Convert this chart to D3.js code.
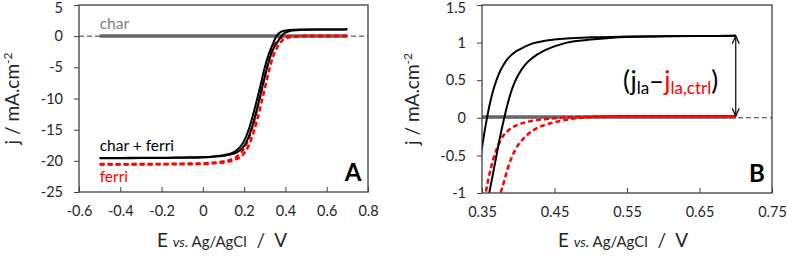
<!DOCTYPE html>
<html><head><meta charset="utf-8">
<script src="https://cdn.jsdelivr.net/npm/d3@7"></script>
<style>body{margin:0;background:#fff}svg{display:block;font-family:Lato,"Open Sans",sans-serif}</style>
</head><body><svg id="c" width="787" height="256"></svg>
<script>
// ---- data ----
const E = [-0.5,-0.4,-0.3,-0.2,-0.1,0,0.05,0.1,0.15,0.18,0.2,0.22,0.24,0.26,0.28,0.30,0.32,0.34,0.35,0.355,0.36,0.365,0.37,0.375,0.38,0.385,0.39,0.395,0.40,0.41,0.42,0.435,0.45,0.467,0.5,0.55,0.6,0.65,0.7];
const charFerriFwd = [-19.55,-19.55,-19.5,-19.5,-19.45,-19.4,-19.3,-19.1,-18.6,-17.8,-16.8,-15.2,-13.0,-10.5,-7.8,-5.0,-2.8,-1.2,-0.4,-0.1,0.15,0.35,0.5,0.62,0.71,0.78,0.83,0.87,0.9,0.95,0.99,1.02,1.04,1.055,1.07,1.08,1.085,1.088,1.09];
const charFerriRev = [-19.6,-19.6,-19.55,-19.55,-19.5,-19.45,-19.35,-19.2,-18.85,-18.3,-17.6,-16.3,-14.4,-12.0,-9.3,-6.5,-4.0,-2.1,-1.5,-1.25,-1.0,-0.75,-0.5,-0.25,-0.03,0.17,0.34,0.47,0.57,0.71,0.8,0.89,0.95,1.0,1.04,1.075,1.083,1.087,1.09];
const ferriFwd = [-20.5,-20.55,-20.5,-20.5,-20.45,-20.4,-20.3,-20.1,-19.6,-18.9,-18.0,-16.6,-14.6,-12.1,-9.3,-6.4,-3.9,-2.0,-1.3,-1.0,-0.76,-0.57,-0.42,-0.31,-0.23,-0.18,-0.14,-0.11,-0.09,-0.06,-0.04,-0.02,-0.005,0.005,0.015,0.02,0.02,0.02,0.02];
const ferriRev = [-20.6,-20.6,-20.6,-20.55,-20.55,-20.5,-20.4,-20.25,-19.9,-19.4,-18.8,-17.7,-16.0,-13.8,-11.2,-8.4,-5.6,-3.3,-2.5,-2.15,-1.8,-1.5,-1.25,-1.03,-0.86,-0.69,-0.55,-0.44,-0.36,-0.25,-0.17,-0.1,-0.06,-0.025,0.01,0.02,0.02,0.02,0.02];
const charE = [-0.5,0.7];
const charJ = [0.01,0.01];
const ticksAx = [-0.6,-0.4,-0.2,0,0.2,0.4,0.6,0.8];
const ticksAy = [5,0,-5,-10,-15,-20,-25];
const ticksBx = [0.35,0.45,0.55,0.65,0.75];
const ticksBy = [1.5,1,0.5,0,-0.5,-1];
const arrowE = 0.70, arrowTop = 1.09, arrowBot = 0.02;

const svg = d3.select("#c");
const frameCol = "#404040";

function panel(opts){
  const {x0,x1,y0,y1,xd,yd,xt,yt,id,letter,ylabX,xlabX} = opts;
  const x = d3.scaleLinear().domain(xd).range([x0,x1]);
  const y = d3.scaleLinear().domain(yd).range([y1,y0]);
  const g = svg.append("g");
  g.append("clipPath").attr("id",id).append("rect").attr("x",x0).attr("y",y0).attr("width",x1-x0).attr("height",y1-y0);
  const ax = g.append("g").attr("transform",`translate(0,${y1})`)
    .call(d3.axisBottom(x).tickValues(xt).tickSize(-5).tickPadding(14).tickFormat(d=>String(d)));
  const ay = g.append("g").attr("transform",`translate(${x0},0)`)
    .call(d3.axisLeft(y).tickValues(yt).tickSize(5).tickPadding(11).tickFormat(d=>String(d)));
  [ax,ay].forEach(a=>{a.select(".domain").remove();a.selectAll("line").attr("stroke",frameCol).attr("stroke-width",1);
    a.selectAll("text").attr("font-family","Lato").attr("font-size",14.5).attr("fill","#262626");});
  ay.selectAll(".tick text").filter(d=>d===yd[1]).attr("dy","0.55em");
  const pg = g.append("g").attr("clip-path",`url(#${id})`);
  pg.append("line").attr("x1",x0).attr("x2",x1).attr("y1",y(0)).attr("y2",y(0))
    .attr("stroke","#333").attr("stroke-width",1).attr("stroke-dasharray","5,3");
  const line = d3.line().x(d=>x(d[0])).y(d=>y(d[1])).curve(d3.curveMonotoneX);
  pg.append("path").datum(charE.map((e,i)=>[e,charJ[i]])).attr("d",line)
    .attr("fill","none").attr("stroke","#666").attr("stroke-width",3.5);
  [ferriFwd,ferriRev].forEach(s=>pg.append("path").datum(E.map((e,i)=>[e,s[i]])).attr("d",line)
    .attr("fill","none").attr("stroke","#ff0000").attr("stroke-width",2.5).attr("stroke-dasharray","5,3"));
  [charFerriFwd,charFerriRev].forEach(s=>pg.append("path").datum(E.map((e,i)=>[e,s[i]])).attr("d",line)
    .attr("fill","none").attr("stroke","#000").attr("stroke-width",2));
  g.append("rect").attr("x",x0).attr("y",y0).attr("width",x1-x0).attr("height",y1-y0)
    .attr("fill","none").attr("stroke",frameCol).attr("stroke-width",1.3);
  g.append("text").attr("x",x1-15).attr("y",y1-11).attr("text-anchor","middle")
    .attr("font-family","Lato").attr("font-weight","bold").attr("font-size",24).text(letter);
  const yl = g.append("text").attr("transform",`translate(${ylabX},${(y0+y1)/2}) rotate(-90)`)
    .attr("text-anchor","middle").attr("font-family","Lato").attr("font-size",19).attr("fill","#262626");
  yl.append("tspan").text("j / mA.cm");
  yl.append("tspan").attr("dy",-7).attr("font-size",12).text("-2");
  const xl = g.append("text").attr("x",xlabX).attr("y",247).attr("text-anchor","middle")
    .attr("font-family","Lato").attr("fill","#262626").attr("font-size",19).attr("xml:space","preserve");
  xl.append("tspan").text("E ");
  xl.append("tspan").attr("font-size",14).attr("font-style","italic").text("vs.");
  xl.append("tspan").attr("font-size",15).text(" Ag/AgCl");
  xl.append("tspan").text("  /  V");
  return {x,y,g};
}

const A = panel({x0:79,x1:368,y0:5,y1:192,xd:[-0.6,0.8],yd:[-25,5],xt:ticksAx,yt:ticksAy,id:"clipA",letter:"A",ylabX:19,xlabX:222});
const B = panel({x0:482,x1:772,y0:5,y1:193,xd:[0.35,0.75],yd:[-1,1.5],xt:ticksBx,yt:ticksBy,id:"clipB",letter:"B",ylabX:419,xlabX:623});

A.g.append("text").attr("x",A.x(-0.5)).attr("y",29).attr("font-family","Lato").attr("font-size",15.5).attr("fill","#7f7f7f").text("char");
A.g.append("text").attr("x",A.x(-0.5)).attr("y",151).attr("font-family","Lato").attr("font-size",15.5).attr("fill","#000").text("char + ferri");
A.g.append("text").attr("x",A.x(-0.5)).attr("y",182).attr("font-family","Lato").attr("font-size",15.5).attr("fill","#ff0000").text("ferri");

const axp = B.x(arrowE), aT = B.y(arrowTop), aB = B.y(arrowBot);
B.g.append("line").attr("x1",axp).attr("x2",axp).attr("y1",aT).attr("y2",aB).attr("stroke","#000").attr("stroke-width",1.2);
B.g.append("path").attr("d",`M${axp-3.5},${aT+8}L${axp},${aT}L${axp+3.5},${aT+8}`).attr("fill","none").attr("stroke","#000").attr("stroke-width",1.2);
B.g.append("path").attr("d",`M${axp-3.5},${aB-8}L${axp},${aB}L${axp+3.5},${aB-8}`).attr("fill","none").attr("stroke","#000").attr("stroke-width",1.2);
const t = B.g.append("text").attr("x",623).attr("y",90).attr("font-family","Lato").attr("font-size",26).attr("fill","#000");
t.append("tspan").text("(j");
t.append("tspan").attr("dy",4).attr("font-size",17).text("la");
t.append("tspan").attr("dy",-4).text("–");
t.append("tspan").attr("fill","#ff0000").text("j");
t.append("tspan").attr("fill","#ff0000").attr("dy",4).attr("font-size",17).text("la,ctrl");
t.append("tspan").attr("dy",-4).text(")");
</script></body></html>
